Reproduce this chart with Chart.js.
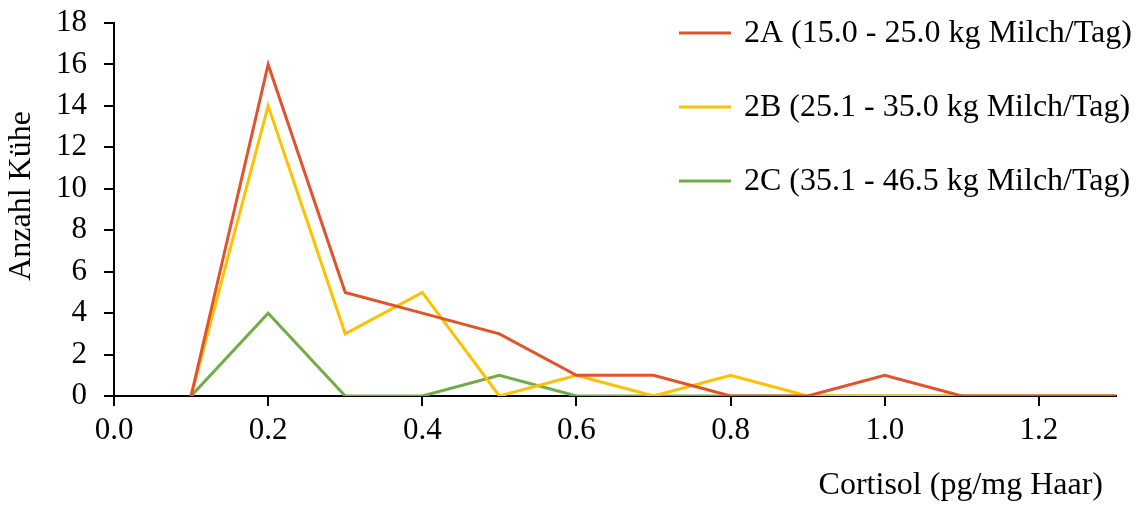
<!DOCTYPE html>
<html>
<head>
<meta charset="utf-8">
<script src="https://cdn.jsdelivr.net/npm/chart.js"></script>
<style>
    html, body { margin: 0; padding: 0; background: #fff; }
    #wrap { position: relative; width: 1139px; height: 506px; }
</style>
</head>
<body>
<div id="wrap"><canvas id="chart"></canvas></div>
<script>
const cortisol = [0.1, 0.2, 0.3, 0.4, 0.5, 0.6, 0.7, 0.8, 0.9, 1.0, 1.1, 1.2, 1.3];
const group2A = [0, 16, 5, 4, 3, 1, 1, 0, 0, 1, 0, 0, 0];
const group2B = [0, 14, 3, 5, 0, 1, 0, 1, 0, 0, 0, 0, 0];
const group2C = [0, 4, 0, 0, 1, 0, 0, 0, 0, 0, 0, 0, 0];
const seriesLabels = [
    '2A (15.0 - 25.0 kg Milch/Tag)',
    '2B (25.1 - 35.0 kg Milch/Tag)',
    '2C (35.1 - 46.5 kg Milch/Tag)'
];
const xTicks = [0.0, 0.2, 0.4, 0.6, 0.8, 1.0, 1.2];
const yTicks = [0, 2, 4, 6, 8, 10, 12, 14, 16, 18];
const xTitle = 'Cortisol (pg/mg Haar)';
const yTitle = 'Anzahl Kühe';

const colors = ['#E2532B', '#FFC000', '#70AD47'];
const fontFamily = '"Liberation Serif", "Times New Roman", serif';

function points(values) {
    return values.map((v, i) => ({ x: cortisol[i], y: v }));
}

// legend and axis titles drawn by hand, placed like in the original
const textPlugin = {
    id: 'sideText',
    afterDraw(chart) {
        const ctx = chart.ctx;
        ctx.save();
        ctx.font = '32px ' + fontFamily;
        ctx.textBaseline = 'middle';
        ctx.fillStyle = '#000';
        chart.data.datasets.forEach((ds, i) => {
            const y = 33 + i * 74;
            ctx.strokeStyle = ds.borderColor;
            ctx.lineWidth = 3;
            ctx.beginPath();
            ctx.moveTo(679, y);
            ctx.lineTo(731, y);
            ctx.stroke();
            ctx.fillText(ds.label, 744, y + 1);
        });

        ctx.textAlign = 'right';
        ctx.fillText(xTitle, 1103, 486);

        ctx.translate(22, 196);
        ctx.rotate(-Math.PI / 2);
        ctx.textAlign = 'center';
        ctx.fillText(yTitle, 0, 0);
        ctx.restore();
    }
};

const datasets = [group2A, group2B, group2C].map((vals, i) => ({
    label: seriesLabels[i],
    data: points(vals),
    borderColor: colors[i],
    backgroundColor: colors[i],
    borderWidth: 3,
    pointRadius: 0,
    tension: 0
}));

new Chart(document.getElementById('chart'), {
    type: 'line',
    data: { datasets: datasets },
    plugins: [textPlugin],
    options: {
        responsive: true,
        maintainAspectRatio: false,
        animation: false,
        layout: { padding: { top: 23, right: 23, left: 0, bottom: 0 } },
        plugins: {
            legend: { display: false },
            tooltip: { enabled: false }
        },
        scales: {
            x: {
                type: 'linear',
                min: 0,
                max: 1.3,
                afterBuildTicks: scale => {
                    scale.ticks = xTicks.map(v => ({ value: v }));
                },
                afterFit: scale => {
                    scale.height = 110;
                    scale.paddingLeft = 0;
                    scale.paddingRight = 0;
                },
                ticks: {
                    color: '#000',
                    font: { family: fontFamily, size: 31 },
                    padding: 6,
                    maxRotation: 0,
                    autoSkip: false,
                    callback: v => Number(v).toFixed(1)
                },
                grid: {
                    drawOnChartArea: false,
                    drawTicks: true,
                    tickLength: 10,
                    color: '#000',
                    lineWidth: 2
                },
                border: { display: true, color: '#000', width: 2 }
            },
            y: {
                min: 0,
                max: 18,
                afterBuildTicks: scale => {
                    scale.ticks = yTicks.map(v => ({ value: v }));
                },
                afterFit: scale => {
                    scale.width = 114;
                    scale.paddingTop = 0;
                    scale.paddingBottom = 0;
                },
                ticks: {
                    color: '#000',
                    font: { family: fontFamily, size: 31 },
                    padding: 17,
                    autoSkip: false
                },
                grid: {
                    drawOnChartArea: false,
                    drawTicks: true,
                    tickLength: 10,
                    color: '#000',
                    lineWidth: 2
                },
                border: { display: true, color: '#000', width: 2 }
            }
        }
    }
});
</script>
</body>
</html>
